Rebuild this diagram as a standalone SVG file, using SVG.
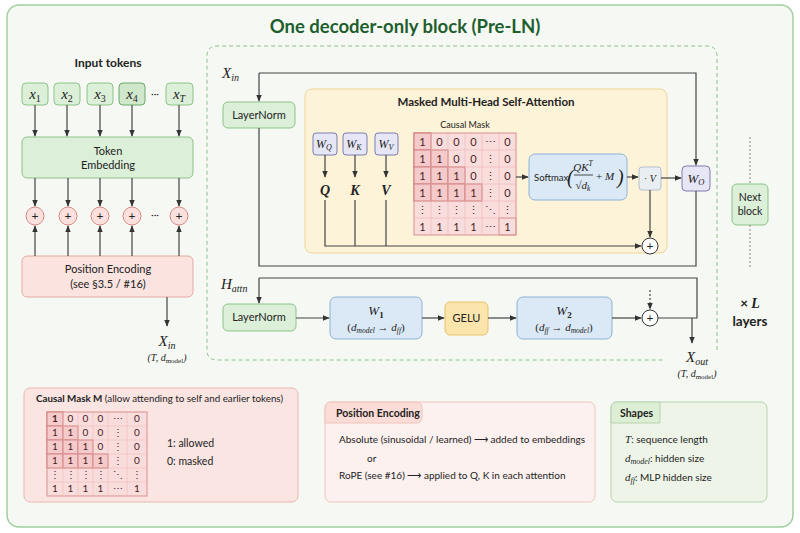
<svg xmlns="http://www.w3.org/2000/svg" width="800" height="533" viewBox="0 0 800 533">
<defs>
<marker id="arr" viewBox="0 0 10 10" refX="9" refY="5" markerWidth="7" markerHeight="7" orient="auto-start-reverse" markerUnits="userSpaceOnUse"><path d="M0,1 L10,5 L0,9 Z" fill="#333"/></marker>
<style>
.sans{font-family:Lato,"Open Sans","Liberation Sans",sans-serif;}
.math{font-family:"Liberation Serif","DejaVu Serif",serif;font-style:italic;}
.ln{fill:none;stroke:#444;stroke-width:1.2;}
.green{fill:#dcefd8;stroke:#8cc38a;stroke-width:1;}
.pink{fill:#fbe3e0;stroke:#e6a9a2;stroke-width:1;}
.lav{fill:#e6e6f6;stroke:#7c7cb2;stroke-width:1;}
.blue{fill:#dbe9f6;stroke:#8db2d6;stroke-width:1;}
.t{font-family:Lato,"Open Sans","Liberation Sans",sans-serif;fill:#222;}
.mx{font-family:Lato,"Liberation Sans",sans-serif;fill:#4a1c1c;text-anchor:middle;}
</style>
</defs>
<rect x="7" y="5" width="786" height="522" rx="12" fill="#f6f9f3" stroke="#9fcf9f" stroke-width="1.5"/>
<text class="sans" x="405" y="33" font-size="18.5" font-weight="bold" fill="#1e5e2e" text-anchor="middle">One decoder-only block (Pre-LN)</text>

<path d="M717,350 V56 Q717,46 707,46 H217 Q207,46 207,56 V350 Q207,360 217,360 H665" fill="none" stroke="#8fbf8f" stroke-width="1" stroke-dasharray="4,3"/>

<text class="t" x="108" y="67" font-size="12" font-weight="bold" text-anchor="middle">Input tokens</text>

<g id="tokens">
<g id="tok1"><rect class="green" x="22" y="83" width="26" height="22" rx="4"/><text class="math" x="35" y="99" font-size="15" fill="#222" text-anchor="middle">x<tspan font-size="10" dy="3" font-style="normal">1</tspan></text></g>
<g id="tok2"><rect class="green" x="54" y="83" width="26" height="22" rx="4"/><text class="math" x="67" y="99" font-size="15" fill="#222" text-anchor="middle">x<tspan font-size="10" dy="3" font-style="normal">2</tspan></text></g>
<g id="tok3"><rect class="green" x="87" y="83" width="26" height="22" rx="4"/><text class="math" x="100" y="99" font-size="15" fill="#222" text-anchor="middle">x<tspan font-size="10" dy="3" font-style="normal">3</tspan></text></g>
<g id="tok4"><rect x="119" y="83" width="26" height="22" rx="4" fill="#cfe8c9" stroke="#6aa86a"/><text class="math" x="132" y="99" font-size="15" fill="#222" text-anchor="middle">x<tspan font-size="10" dy="3" font-style="normal">4</tspan></text></g>
<text class="t" x="155" y="97" font-size="10" text-anchor="middle" fill="#666">···</text>
<g id="tokT"><rect class="green" x="166" y="83" width="27" height="22" rx="4"/><text class="math" x="179" y="99" font-size="15" fill="#222" text-anchor="middle">x<tspan font-size="10" dy="3">T</tspan></text></g>
</g>

<g id="embedding"><rect class="green" x="22" y="137" width="171" height="41" rx="5"/><text class="t" x="108" y="155" font-size="11" text-anchor="middle">Token</text><text class="t" x="108" y="169" font-size="11" text-anchor="middle">Embedding</text></g>

<g id="adds">
<g fill="#fbe0de" stroke="#d88a85" stroke-width="1"><circle cx="35" cy="216" r="9"/><circle cx="68" cy="216" r="9"/><circle cx="100" cy="216" r="9"/><circle cx="132" cy="216" r="9"/><circle cx="179" cy="216" r="9"/></g>
<g class="t" font-size="12" fill="#a33" text-anchor="middle"><text x="35" y="220">+</text><text x="68" y="220">+</text><text x="100" y="220">+</text><text x="132" y="220">+</text><text x="179" y="220">+</text></g>
<text class="t" x="155" y="218" font-size="10" text-anchor="middle" fill="#666">···</text>
</g>

<g id="posenc"><rect class="pink" x="22" y="256" width="171" height="41" rx="5"/><text class="t" x="108" y="273" font-size="11" text-anchor="middle">Position Encoding</text><text class="t" x="108" y="288" font-size="11" text-anchor="middle">(see §3.5 / #16)</text></g>

<text class="math" x="167" y="346" font-size="15" fill="#222" text-anchor="middle">X<tspan font-size="10" dy="3">in</tspan></text>
<text class="math" x="167" y="361" font-size="10" fill="#222" text-anchor="middle">(T, d<tspan font-size="7" dy="2" font-style="normal">model</tspan><tspan dy="-2">)</tspan></text>

<text class="math" x="222" y="78" font-size="15" fill="#222">X<tspan font-size="10" dy="3">in</tspan></text>
<g id="ln1"><rect class="green" x="223" y="102" width="72" height="26" rx="5"/><text class="t" x="259" y="119" font-size="11" text-anchor="middle">LayerNorm</text></g>

<g id="attn">
<rect x="305" y="89" width="362" height="164" rx="7" fill="#fdf3d8" stroke="#efd596"/>
<text class="t" x="486" y="106" font-size="11.5" font-weight="bold" text-anchor="middle">Masked Multi-Head Self-Attention</text>
<g id="wq"><rect class="lav" x="313" y="133" width="24" height="22" rx="3"/><text class="math" x="324" y="148" font-size="12" fill="#222" text-anchor="middle">W<tspan font-size="8" dy="2">Q</tspan></text></g>
<g id="wk"><rect class="lav" x="343" y="133" width="24" height="22" rx="3"/><text class="math" x="354" y="148" font-size="12" fill="#222" text-anchor="middle">W<tspan font-size="8" dy="2">K</tspan></text></g>
<g id="wv"><rect class="lav" x="375" y="133" width="23" height="22" rx="3"/><text class="math" x="386" y="148" font-size="12" fill="#222" text-anchor="middle">W<tspan font-size="8" dy="2">V</tspan></text></g>
<g class="math" font-size="14" font-weight="bold" fill="#222" text-anchor="middle"><text x="325" y="195">Q</text><text x="355" y="195">K</text><text x="386" y="195">V</text></g>

<g id="causalmask">
<text class="t" x="465" y="128" font-size="9" text-anchor="middle">Causal Mask</text>
<rect x="414" y="133" width="102" height="102" fill="#f9dcdc" stroke="#d89090"/>
<g fill="#f5caca" stroke="#c66a6a" stroke-width="0.9">
<rect x="414" y="133" width="17" height="17"/>
<rect x="414" y="150" width="17" height="17"/><rect x="431" y="150" width="17" height="17"/>
<rect x="414" y="167" width="17" height="17"/><rect x="431" y="167" width="17" height="17"/><rect x="448" y="167" width="17" height="17"/>
<rect x="414" y="184" width="17" height="17"/><rect x="431" y="184" width="17" height="17"/><rect x="448" y="184" width="17" height="17"/><rect x="465" y="184" width="17" height="17"/>
</g>
<g fill="none" stroke="#eeb6b6" stroke-width="0.6">
<path d="M431,133 V235 M448,133 V235 M465,133 V235 M482,133 V235 M499,133 V235 M414,150 H516 M414,167 H516 M414,184 H516 M414,201 H516 M414,218 H516"/>
</g>
<rect x="499" y="218" width="17" height="17" fill="none" stroke="#d89090" stroke-width="0.8"/>
<g class="mx" font-size="11">
<text x="422.5" y="146">1</text><text x="439.5" y="146">0</text><text x="456.5" y="146">0</text><text x="473.5" y="146">0</text><text x="490.5" y="146">⋯</text><text x="507.5" y="146">0</text>
<text x="422.5" y="163">1</text><text x="439.5" y="163">1</text><text x="456.5" y="163">0</text><text x="473.5" y="163">0</text><text x="490.5" y="163">⋮</text><text x="507.5" y="163">0</text>
<text x="422.5" y="180">1</text><text x="439.5" y="180">1</text><text x="456.5" y="180">1</text><text x="473.5" y="180">0</text><text x="490.5" y="180">⋮</text><text x="507.5" y="180">0</text>
<text x="422.5" y="197">1</text><text x="439.5" y="197">1</text><text x="456.5" y="197">1</text><text x="473.5" y="197">1</text><text x="490.5" y="197">⋮</text><text x="507.5" y="197">0</text>
<text x="422.5" y="214">⋮</text><text x="439.5" y="214">⋮</text><text x="456.5" y="214">⋮</text><text x="473.5" y="214">⋮</text><text x="490.5" y="214">⋱</text><text x="507.5" y="214">⋮</text>
<text x="422.5" y="231">1</text><text x="439.5" y="231">1</text><text x="456.5" y="231">1</text><text x="473.5" y="231">1</text><text x="490.5" y="231">⋯</text><text x="507.5" y="231">1</text>
</g>
</g>

<g id="softmax">
<rect class="blue" x="529" y="154" width="98" height="46" rx="6"/>
<text class="t" x="534" y="181" font-size="9.5">Softmax</text>
<text class="math" x="567" y="184" font-size="20" font-style="normal" fill="#222">(</text>
<text class="math" x="583" y="171" font-size="11" fill="#222" text-anchor="middle">QK<tspan font-size="7.5" dy="-5">T</tspan></text>
<line x1="574" y1="175" x2="593" y2="175" stroke="#222" stroke-width="0.8"/>
<text class="math" x="583" y="189" font-size="11" fill="#222" text-anchor="middle"><tspan font-style="normal">√</tspan>d<tspan font-size="7.5" dy="2">k</tspan></text>
<text class="math" x="596" y="180" font-size="11" fill="#222"><tspan font-style="normal">+</tspan> M</text>
<text class="math" x="617" y="184" font-size="20" font-style="normal" fill="#222">)</text>
</g>
<g id="mulv"><rect x="639" y="167" width="22" height="23" rx="3" fill="#e9eef3" stroke="#b4bfcc"/><text class="math" x="650" y="182" font-size="10" fill="#222" text-anchor="middle"><tspan font-style="normal">·</tspan> V</text></g>
<g id="attnadd"><circle cx="650" cy="246" r="8" fill="#fff" stroke="#333"/><text class="t" x="650" y="250" font-size="12" text-anchor="middle">+</text></g>
</g>

<g id="wo"><rect class="lav" x="682" y="166" width="28" height="25" rx="4"/><text class="math" x="696" y="183" font-size="13" fill="#222" text-anchor="middle">W<tspan font-size="8.5" dy="2">O</tspan></text></g>

<g id="nextblock"><rect class="green" x="732" y="184" width="36" height="41" rx="5"/><text class="t" x="750" y="201" font-size="10.5" text-anchor="middle">Next</text><text class="t" x="750" y="215" font-size="10.5" text-anchor="middle">block</text></g>
<path d="M750,137 V184 M750,225 V268" stroke="#888" stroke-width="1" stroke-dasharray="2,2" fill="none"/>
<text class="t" x="750" y="308" font-size="13.5" font-weight="bold" fill="#1e5e2e" text-anchor="middle">× <tspan class="math" font-weight="bold" font-size="14">L</tspan></text>
<text class="t" x="750" y="326" font-size="13.5" font-weight="bold" fill="#1e5e2e" text-anchor="middle">layers</text>

<text class="math" x="221" y="289" font-size="15" fill="#222">H<tspan font-size="10" dy="3">attn</tspan></text>
<g id="ln2"><rect class="green" x="223" y="304" width="73" height="27" rx="5"/><text class="t" x="259" y="321" font-size="11" text-anchor="middle">LayerNorm</text></g>
<g id="w1"><rect class="blue" x="330" y="297" width="92" height="42" rx="6"/><text class="math" x="376" y="315" font-size="13" fill="#222" text-anchor="middle">W<tspan font-size="9" dy="3" font-style="normal" font-weight="bold">1</tspan></text><text class="math" x="376" y="331" font-size="11" fill="#222" text-anchor="middle"><tspan font-style="normal">(</tspan>d<tspan font-size="7.5" dy="2">model</tspan><tspan dy="-2" font-style="normal"> → </tspan>d<tspan font-size="7.5" dy="2">ff</tspan><tspan dy="-2" font-style="normal">)</tspan></text></g>
<g id="gelu"><rect x="445" y="302" width="43" height="33" rx="5" fill="#fbe5ad" stroke="#e5c36a"/><text class="t" x="466.5" y="322" font-size="11" text-anchor="middle">GELU</text></g>
<g id="w2"><rect class="blue" x="517" y="297" width="95" height="42" rx="6"/><text class="math" x="564" y="315" font-size="13" fill="#222" text-anchor="middle">W<tspan font-size="9" dy="3" font-style="normal" font-weight="bold">2</tspan></text><text class="math" x="564" y="331" font-size="11" fill="#222" text-anchor="middle"><tspan font-style="normal">(</tspan>d<tspan font-size="7.5" dy="2">ff</tspan><tspan dy="-2" font-style="normal"> → </tspan>d<tspan font-size="7.5" dy="2">model</tspan><tspan dy="-2" font-style="normal">)</tspan></text></g>
<g id="ffnadd"><circle cx="650" cy="318" r="8" fill="#fff" stroke="#333"/><text class="t" x="650" y="322" font-size="12" text-anchor="middle">+</text></g>
<text class="math" x="697" y="362" font-size="15" fill="#222" text-anchor="middle">X<tspan font-size="10" dy="3">out</tspan></text>
<text class="math" x="697" y="377" font-size="10" fill="#222" text-anchor="middle">(T, d<tspan font-size="7" dy="2" font-style="normal">model</tspan><tspan dy="-2">)</tspan></text>

<g id="connectors">
<path class="ln" d="M35,105 V136" marker-end="url(#arr)"/>
<path class="ln" d="M67,105 V136" marker-end="url(#arr)"/>
<path class="ln" d="M100,105 V136" marker-end="url(#arr)"/>
<path class="ln" d="M132,105 V136" marker-end="url(#arr)"/>
<path class="ln" d="M179,105 V136" marker-end="url(#arr)"/>
<path class="ln" d="M35,178 V206" marker-end="url(#arr)"/>
<path class="ln" d="M68,178 V206" marker-end="url(#arr)"/>
<path class="ln" d="M100,178 V206" marker-end="url(#arr)"/>
<path class="ln" d="M132,178 V206" marker-end="url(#arr)"/>
<path class="ln" d="M179,178 V206" marker-end="url(#arr)"/>
<path class="ln" d="M35,256 V226" marker-end="url(#arr)"/>
<path class="ln" d="M68,256 V226" marker-end="url(#arr)"/>
<path class="ln" d="M100,256 V226" marker-end="url(#arr)"/>
<path class="ln" d="M132,256 V226" marker-end="url(#arr)"/>
<path class="ln" d="M179,256 V226" marker-end="url(#arr)"/>
<path class="ln" d="M167,297 V326" marker-end="url(#arr)"/>
<path class="ln" d="M259,73 V101" marker-end="url(#arr)"/>
<path class="ln" d="M259,73 H696 V165" marker-end="url(#arr)"/>
<path class="ln" d="M259,128 V266 H696 V191"/>
<path class="ln" d="M325,155 V177" marker-end="url(#arr)"/>
<path class="ln" d="M355,155 V177" marker-end="url(#arr)"/>
<path class="ln" d="M386,155 V177" marker-end="url(#arr)"/>
<path class="ln" d="M325,200 V246 H641" marker-end="url(#arr)"/>
<path class="ln" d="M355,200 V246"/>
<path class="ln" d="M386,200 V246"/>
<path class="ln" d="M516,177 H528" marker-end="url(#arr)"/>
<path class="ln" d="M627,177 H638" marker-end="url(#arr)"/>
<path class="ln" d="M661,178 H681" marker-end="url(#arr)"/>
<path class="ln" d="M650,190 V237" marker-end="url(#arr)"/>
<path class="ln" d="M259,278 V303" marker-end="url(#arr)"/>
<path class="ln" d="M259,278 H697 V318 H658"/>
<path class="ln" d="M296,318 H329" marker-end="url(#arr)"/>
<path class="ln" d="M422,318 H444" marker-end="url(#arr)"/>
<path class="ln" d="M488,318 H516" marker-end="url(#arr)"/>
<path class="ln" d="M612,318 H641" marker-end="url(#arr)"/>
<path class="ln" d="M650,290 V309" stroke-dasharray="2,2" marker-end="url(#arr)"/>
<path class="ln" d="M692,318 V343" marker-end="url(#arr)"/>
</g>

<g id="legend-mask">
<rect x="24" y="388" width="274" height="114" rx="6" fill="#fbe5e3" stroke="#eab6b0"/>
<text class="t" x="36" y="402" font-size="9.8"><tspan font-weight="bold">Causal Mask M</tspan>  (allow attending to self and earlier tokens)</text>
<rect x="47" y="412" width="100" height="84" fill="#f9dcdc" stroke="#d89090"/>
<g fill="#f5caca" stroke="#c66a6a" stroke-width="0.8">
<rect x="47" y="412" width="16" height="14"/>
<rect x="47" y="426" width="16" height="14"/><rect x="63" y="426" width="15" height="14"/>
<rect x="47" y="440" width="16" height="14"/><rect x="63" y="440" width="15" height="14"/><rect x="78" y="440" width="15" height="14"/>
<rect x="47" y="454" width="16" height="14"/><rect x="63" y="454" width="15" height="14"/><rect x="78" y="454" width="15" height="14"/><rect x="93" y="454" width="15" height="14"/>
</g>
<path d="M63,412 V496 M78,412 V496 M93,412 V496 M108,412 V496 M127,412 V496 M47,426 H147 M47,440 H147 M47,454 H147 M47,468 H147 M47,482 H147" fill="none" stroke="#eeb6b6" stroke-width="0.5"/>
<g class="mx" font-size="10">
<text x="55" y="422" font-weight="bold">1</text><text x="70.5" y="422">0</text><text x="85.5" y="422">0</text><text x="100.5" y="422">0</text><text x="117.5" y="422">⋯</text><text x="137" y="422">0</text>
<text x="55" y="436">1</text><text x="70.5" y="436">1</text><text x="85.5" y="436">0</text><text x="100.5" y="436">0</text><text x="117.5" y="436">⋮</text><text x="137" y="436">0</text>
<text x="55" y="450">1</text><text x="70.5" y="450">1</text><text x="85.5" y="450">1</text><text x="100.5" y="450">0</text><text x="117.5" y="450">⋮</text><text x="137" y="450">0</text>
<text x="55" y="464">1</text><text x="70.5" y="464">1</text><text x="85.5" y="464">1</text><text x="100.5" y="464">1</text><text x="117.5" y="464">⋮</text><text x="137" y="464">0</text>
<text x="55" y="478">⋮</text><text x="70.5" y="478">⋮</text><text x="85.5" y="478">⋮</text><text x="100.5" y="478">⋮</text><text x="117.5" y="478">⋱</text><text x="137" y="478">⋮</text>
<text x="55" y="492">1</text><text x="70.5" y="492">1</text><text x="85.5" y="492">1</text><text x="100.5" y="492">1</text><text x="117.5" y="492">⋯</text><text x="137" y="492">1</text>
</g>
<text class="t" x="167" y="447" font-size="10.5">1: allowed</text>
<text class="t" x="167" y="465" font-size="10.5">0: masked</text>
</g>

<g id="legend-pe">
<rect x="325" y="402" width="270" height="100" rx="6" fill="#fdf1ef" stroke="#f0c4bd"/>
<path d="M325,423 V408 Q325,402 331,402 H416 Q422,402 422,408 V417 Q422,423 416,423 Z" fill="#fbdcd6" stroke="#f0c4bd"/>
<text class="t" x="336" y="417" font-size="10.5" font-weight="bold">Position Encoding</text>
<text class="t" x="339" y="443" font-size="10">Absolute (sinusoidal / learned)  ⟶  added to embeddings</text>
<text class="t" x="367" y="462" font-size="10">or</text>
<text class="t" x="339" y="479" font-size="10">RoPE (see #16)  ⟶  applied to Q, K in each attention</text>
</g>

<g id="legend-shapes">
<rect x="611" y="402" width="156" height="100" rx="6" fill="#eef5e8" stroke="#b7d3ad"/>
<path d="M611,423 V408 Q611,402 617,402 H660 V423 Z" fill="#dcefd4" stroke="#b7d3ad"/>
<text class="t" x="620" y="417" font-size="10.5" font-weight="bold">Shapes</text>
<text class="t" x="625" y="443" font-size="10"><tspan class="math" font-size="11">T</tspan>: sequence length</text>
<text class="t" x="625" y="462" font-size="10"><tspan class="math" font-size="11">d</tspan><tspan class="math" font-size="8" font-style="normal" dy="2">model</tspan><tspan dy="-2">: hidden size</tspan></text>
<text class="t" x="625" y="481" font-size="10"><tspan class="math" font-size="11">d</tspan><tspan class="math" font-size="8" dy="2">ff</tspan><tspan dy="-2">: MLP hidden size</tspan></text>
</g>
</svg>
